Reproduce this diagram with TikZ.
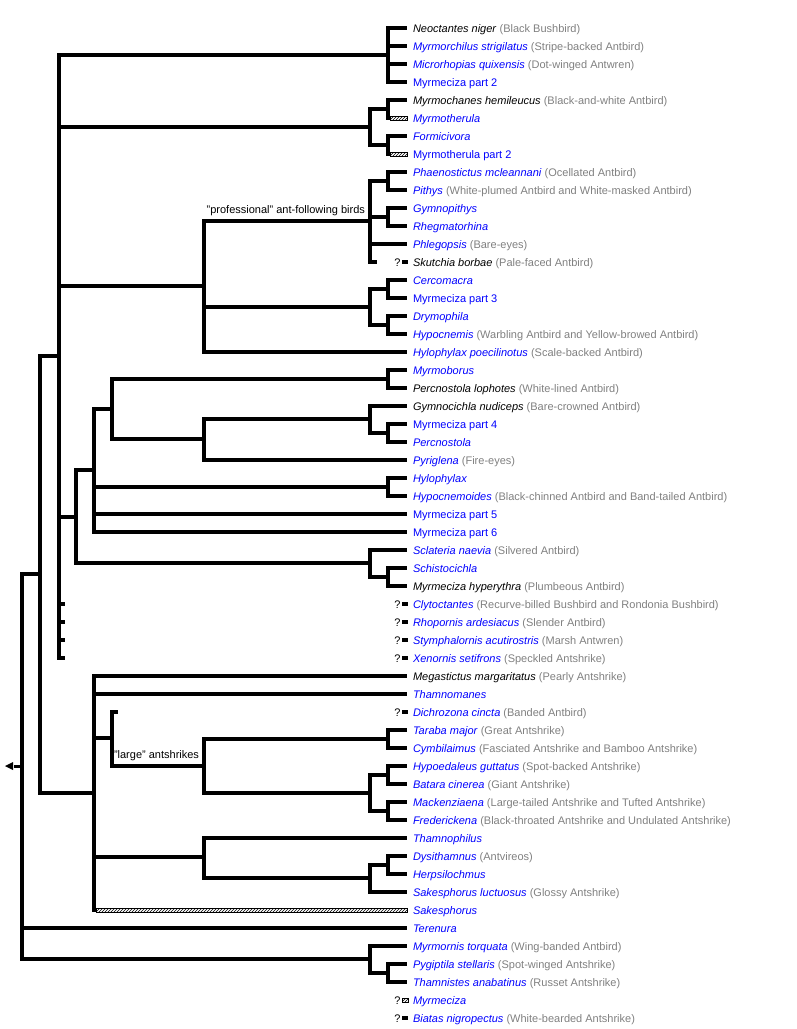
\documentclass[tikz,border=0pt]{standalone}
\usepackage{fontspec}
\setmainfont{Liberation Sans}
\usetikzlibrary{arrows.meta,calc,patterns}
\tikzset{
	leaf/.style={anchor=west, inner xsep=4pt, inner ysep=0pt, text height=8pt, text depth=0pt},
	cladelab/.style={anchor=south east, inner sep=1pt, xshift=-2pt, yshift=2pt},
	hatchbar/.style={draw, line width=0.7pt, pattern=north east lines},
	query/.pic={
		\fill (-5,-2) rectangle (1,2);
		\node[anchor=east, inner sep=0pt, text height=8pt, text depth=0pt] at (-4.6,0) {?};},
	queryhatch/.pic={
		\draw[hatchbar] (-5,-2) rectangle (1,2);
		\node[anchor=east, inner sep=0pt, text height=8pt, text depth=0pt] at (-4.6,0) {?};}
}
\definecolor{linkColor}{HTML}{0000FF}
\definecolor{cnColor}{HTML}{808080}
\newcommand{\tx}[1]{\textcolor{linkColor}{\textit{#1}}}
\newcommand{\txk}[1]{\textit{#1}}
\newcommand{\txp}[1]{\textcolor{linkColor}{#1}}
\newcommand{\cn}[1]{\textcolor{cnColor}{(#1)}}

\begin{document}
\begin{tikzpicture}[x=1pt, y=-1pt, line width=4pt,
		font=\fontsize{11}{13}\selectfont,
		every edge/.style={draw, to path={|- (\tikztotarget)}}]
	\useasboundingbox (0,0) rectangle (796,1029);

	\node[leaf] (neoctantes) at (407,28) {\txk{Neoctantes niger} \cn{Black Bushbird}};
	\node[leaf] (myrmorchilus) at (407,46) {\tx{Myrmorchilus strigilatus} \cn{Stripe-backed Antbird}};
	\node[leaf] (microrhopias) at (407,64) {\tx{Microrhopias quixensis} \cn{Dot-winged Antwren}};
	\node[leaf] (myrmecizaB) at (407,82) {\txp{Myrmeciza part 2}};
	\node[leaf] (myrmochanes) at (407,100) {\txk{Myrmochanes hemileucus} \cn{Black-and-white Antbird}};
	\node[leaf] (myrmotherula) at (407,118) {\tx{Myrmotherula}};
	\node[leaf] (formicivora) at (407,136) {\tx{Formicivora}};
	\node[leaf] (myrmotherulaB) at (407,154) {\txp{Myrmotherula part 2}};
	\node[leaf] (phaenostictus) at (407,172) {\tx{Phaenostictus mcleannani} \cn{Ocellated Antbird}};
	\node[leaf] (pithys) at (407,190) {\tx{Pithys} \cn{White-plumed Antbird and White-masked Antbird}};
	\node[leaf] (gymnopithys) at (407,208) {\tx{Gymnopithys}};
	\node[leaf] (rhegmatorhina) at (407,226) {\tx{Rhegmatorhina}};
	\node[leaf] (phlegopsis) at (407,244) {\tx{Phlegopsis} \cn{Bare-eyes}};
	\node[leaf] (skutchia) at (407,262) {\txk{Skutchia borbae} \cn{Pale-faced Antbird}};
	\node[leaf] (cercomacra) at (407,280) {\tx{Cercomacra}};
	\node[leaf] (myrmecizaC) at (407,298) {\txp{Myrmeciza part 3}};
	\node[leaf] (drymophila) at (407,316) {\tx{Drymophila}};
	\node[leaf] (hypocnemis) at (407,334) {\tx{Hypocnemis} \cn{Warbling Antbird and Yellow-browed Antbird}};
	\node[leaf] (hylophylaxP) at (407,352) {\tx{Hylophylax poecilinotus} \cn{Scale-backed Antbird}};
	\node[leaf] (myrmoborus) at (407,370) {\tx{Myrmoborus}};
	\node[leaf] (percnostolaL) at (407,388) {\txk{Percnostola lophotes} \cn{White-lined Antbird}};
	\node[leaf] (gymnocichla) at (407,406) {\txk{Gymnocichla nudiceps} \cn{Bare-crowned Antbird}};
	\node[leaf] (myrmecizaD) at (407,424) {\txp{Myrmeciza part 4}};
	\node[leaf] (percnostola) at (407,442) {\tx{Percnostola}};
	\node[leaf] (pyriglena) at (407,460) {\tx{Pyriglena} \cn{Fire-eyes}};
	\node[leaf] (hylophylax) at (407,478) {\tx{Hylophylax}};
	\node[leaf] (hypocnemoides) at (407,496) {\tx{Hypocnemoides} \cn{Black-chinned Antbird and Band-tailed Antbird}};
	\node[leaf] (myrmecizaE) at (407,514) {\txp{Myrmeciza part 5}};
	\node[leaf] (myrmecizaF) at (407,532) {\txp{Myrmeciza part 6}};
	\node[leaf] (sclateria) at (407,550) {\tx{Sclateria naevia} \cn{Silvered Antbird}};
	\node[leaf] (schistocichla) at (407,568) {\tx{Schistocichla}};
	\node[leaf] (myrmecizaH) at (407,586) {\txk{Myrmeciza hyperythra} \cn{Plumbeous Antbird}};
	\node[leaf] (clytoctantes) at (407,604) {\tx{Clytoctantes} \cn{Recurve-billed Bushbird and Rondonia Bushbird}};
	\node[leaf] (rhopornis) at (407,622) {\tx{Rhopornis ardesiacus} \cn{Slender Antbird}};
	\node[leaf] (stymphalornis) at (407,640) {\tx{Stymphalornis acutirostris} \cn{Marsh Antwren}};
	\node[leaf] (xenornis) at (407,658) {\tx{Xenornis setifrons} \cn{Speckled Antshrike}};
	\node[leaf] (megastictus) at (407,676) {\txk{Megastictus margaritatus} \cn{Pearly Antshrike}};
	\node[leaf] (thamnomanes) at (407,694) {\tx{Thamnomanes}};
	\node[leaf] (dichrozona) at (407,712) {\tx{Dichrozona cincta} \cn{Banded Antbird}};
	\node[leaf] (taraba) at (407,730) {\tx{Taraba major} \cn{Great Antshrike}};
	\node[leaf] (cymbilaimus) at (407,748) {\tx{Cymbilaimus} \cn{Fasciated Antshrike and Bamboo Antshrike}};
	\node[leaf] (hypoedaleus) at (407,766) {\tx{Hypoedaleus guttatus} \cn{Spot-backed Antshrike}};
	\node[leaf] (batara) at (407,784) {\tx{Batara cinerea} \cn{Giant Antshrike}};
	\node[leaf] (mackenziaena) at (407,802) {\tx{Mackenziaena} \cn{Large-tailed Antshrike and Tufted Antshrike}};
	\node[leaf] (frederickena) at (407,820) {\tx{Frederickena} \cn{Black-throated Antshrike and Undulated Antshrike}};
	\node[leaf] (thamnophilus) at (407,838) {\tx{Thamnophilus}};
	\node[leaf] (dysithamnus) at (407,856) {\tx{Dysithamnus} \cn{Antvireos}};
	\node[leaf] (herpsilochmus) at (407,874) {\tx{Herpsilochmus}};
	\node[leaf] (sakesphorusL) at (407,892) {\tx{Sakesphorus luctuosus} \cn{Glossy Antshrike}};
	\node[leaf] (sakesphorus) at (407,910) {\tx{Sakesphorus}};
	\node[leaf] (terenura) at (407,928) {\tx{Terenura}};
	\node[leaf] (myrmornis) at (407,946) {\tx{Myrmornis torquata} \cn{Wing-banded Antbird}};
	\node[leaf] (pygiptila) at (407,964) {\tx{Pygiptila stellaris} \cn{Spot-winged Antshrike}};
	\node[leaf] (thamnistes) at (407,982) {\tx{Thamnistes anabatinus} \cn{Russet Antshrike}};
	\node[leaf] (myrmeciza) at (407,1000) {\tx{Myrmeciza}};
	\node[leaf] (biatas) at (407,1018) {\tx{Biatas nigropectus} \cn{White-bearded Antshrike}};

	\coordinate (root) at (22,766);
	\coordinate (rootStub) at (14,766);
	\coordinate (rootTip) at (5,766);
	\coordinate (n40) at (40,574);
	\coordinate (n59) at (59,356);
	\coordinate (nBot) at (94,793);
	\coordinate (nNeo) at (388,55);
	\coordinate (nMyrmo) at (370,127);
	\coordinate (nMyrmA) at (388,109);
	\coordinate (nMyrmB) at (388,145);
	\coordinate (nAnt) at (204,286);
	\coordinate (nProf) at (370,221);
	\coordinate (nPhaen) at (388,181);
	\coordinate (nGymno) at (388,217);
	\coordinate (skutchiaStub) at (377,262);
	\coordinate (nCerco) at (370,307);
	\coordinate (nCercA) at (388,289);
	\coordinate (nCercB) at (388,325);
	\coordinate (nRest) at (76,517);
	\coordinate (nPerc) at (94,470);
	\coordinate (nMyrmob) at (112,409);
	\coordinate (nMyrmobA) at (388,379);
	\coordinate (nGymnoc) at (204,439);
	\coordinate (nGymnocA) at (370,419);
	\coordinate (nGymnocB) at (388,433);
	\coordinate (nHylo) at (388,487);
	\coordinate (nSclat) at (370,563);
	\coordinate (nSchist) at (388,577);
	\coordinate (clytoStub) at (65,604);
	\coordinate (rhopoStub) at (65,622);
	\coordinate (stymphStub) at (65,640);
	\coordinate (xenoStub) at (65,658);
	\coordinate (nLarge) at (112,738);
	\coordinate (dichroStub) at (118,712);
	\coordinate (nLargeB) at (204,766);
	\coordinate (nTaraba) at (388,739);
	\coordinate (nBatara) at (370,793);
	\coordinate (nHypo) at (388,775);
	\coordinate (nMack) at (388,811);
	\coordinate (nThamnoph) at (204,857);
	\coordinate (nDysi) at (370,878);
	\coordinate (nDysiA) at (388,865);
	\coordinate (nMyrmornis) at (370,959);
	\coordinate (nPygi) at (388,973);

	\draw[line width=3pt] (root) -- (rootStub);
	\fill (rootTip) -- ++(8,-4) -- ++(0,8) -- cycle;
	\path (root) edge (n40) edge (terenura.west) edge (nMyrmornis);
	\path (n40) edge (n59) edge (nBot);
	\path (n59) edge (nNeo) edge (nMyrmo) edge (nAnt) edge (nRest)
		edge (clytoStub) edge (rhopoStub) edge (stymphStub) edge (xenoStub);
	\path (nNeo) edge (neoctantes.west) edge (myrmorchilus.west) edge (microrhopias.west) edge (myrmecizaB.west);
	\path (nMyrmo) edge (nMyrmA) edge (nMyrmB);
	\path (nMyrmA) edge (myrmochanes.west);
	\path (nMyrmB) edge (formicivora.west);
	\draw[line cap=rect] (nMyrmA) -- (nMyrmA |- myrmotherula.west);
	\draw[hatchbar] ($(nMyrmA |- myrmotherula.west)+(2,-2)$) rectangle ($(myrmotherula.west)+(0,2)$);
	\draw[line cap=rect] (nMyrmB) -- (nMyrmB |- myrmotherulaB.west);
	\draw[hatchbar] ($(nMyrmB |- myrmotherulaB.west)+(2,-2)$) rectangle ($(myrmotherulaB.west)+(0,2)$);
	\path (nAnt) edge (nProf) edge (nCerco) edge (hylophylaxP.west);
	\path (nProf) edge (nPhaen) edge (nGymno) edge (phlegopsis.west) edge (skutchiaStub);
	\path (nPhaen) edge (phaenostictus.west) edge (pithys.west);
	\path (nGymno) edge (gymnopithys.west) edge (rhegmatorhina.west);
	\path (nCerco) edge (nCercA) edge (nCercB);
	\path (nCercA) edge (cercomacra.west) edge (myrmecizaC.west);
	\path (nCercB) edge (drymophila.west) edge (hypocnemis.west);
	\path (nRest) edge (nPerc) edge (nSclat);
	\path (nPerc) edge (nMyrmob) edge (nHylo) edge (myrmecizaE.west) edge (myrmecizaF.west);
	\path (nMyrmob) edge (nMyrmobA) edge (nGymnoc);
	\path (nMyrmobA) edge (myrmoborus.west) edge (percnostolaL.west);
	\path (nGymnoc) edge (nGymnocA) edge (pyriglena.west);
	\path (nGymnocA) edge (gymnocichla.west) edge (nGymnocB);
	\path (nGymnocB) edge (myrmecizaD.west) edge (percnostola.west);
	\path (nHylo) edge (hylophylax.west) edge (hypocnemoides.west);
	\path (nSclat) edge (sclateria.west) edge (nSchist);
	\path (nSchist) edge (schistocichla.west) edge (myrmecizaH.west);
	\path (nBot) edge (megastictus.west) edge (thamnomanes.west) edge (nLarge) edge (nThamnoph);
	\draw[line cap=rect] (nBot) -- (nBot |- sakesphorus.west);
	\draw[hatchbar] ($(nBot |- sakesphorus.west)+(2,-2)$) rectangle ($(sakesphorus.west)+(0,2)$);
	\path (nLarge) edge (dichroStub) edge (nLargeB);
	\path (nLargeB) edge (nTaraba) edge (nBatara);
	\path (nTaraba) edge (taraba.west) edge (cymbilaimus.west);
	\path (nBatara) edge (nHypo) edge (nMack);
	\path (nHypo) edge (hypoedaleus.west) edge (batara.west);
	\path (nMack) edge (mackenziaena.west) edge (frederickena.west);
	\path (nThamnoph) edge (thamnophilus.west) edge (nDysi);
	\path (nDysi) edge (nDysiA) edge (sakesphorusL.west);
	\path (nDysiA) edge (dysithamnus.west) edge (herpsilochmus.west);
	\path (nMyrmornis) edge (myrmornis.west) edge (nPygi);
	\path (nPygi) edge (pygiptila.west) edge (thamnistes.west);

	\node[cladelab] (profLab) at (nProf) {"professional" ant-following birds};
	\node[cladelab] (largeLab) at (nLargeB) {"large" antshrikes};

	\pic at (skutchia.west) {query};
	\pic at (clytoctantes.west) {query};
	\pic at (rhopornis.west) {query};
	\pic at (stymphalornis.west) {query};
	\pic at (xenornis.west) {query};
	\pic at (dichrozona.west) {query};
	\pic at (myrmeciza.west) {queryhatch};
	\pic at (biatas.west) {query};
\end{tikzpicture}
\end{document}
